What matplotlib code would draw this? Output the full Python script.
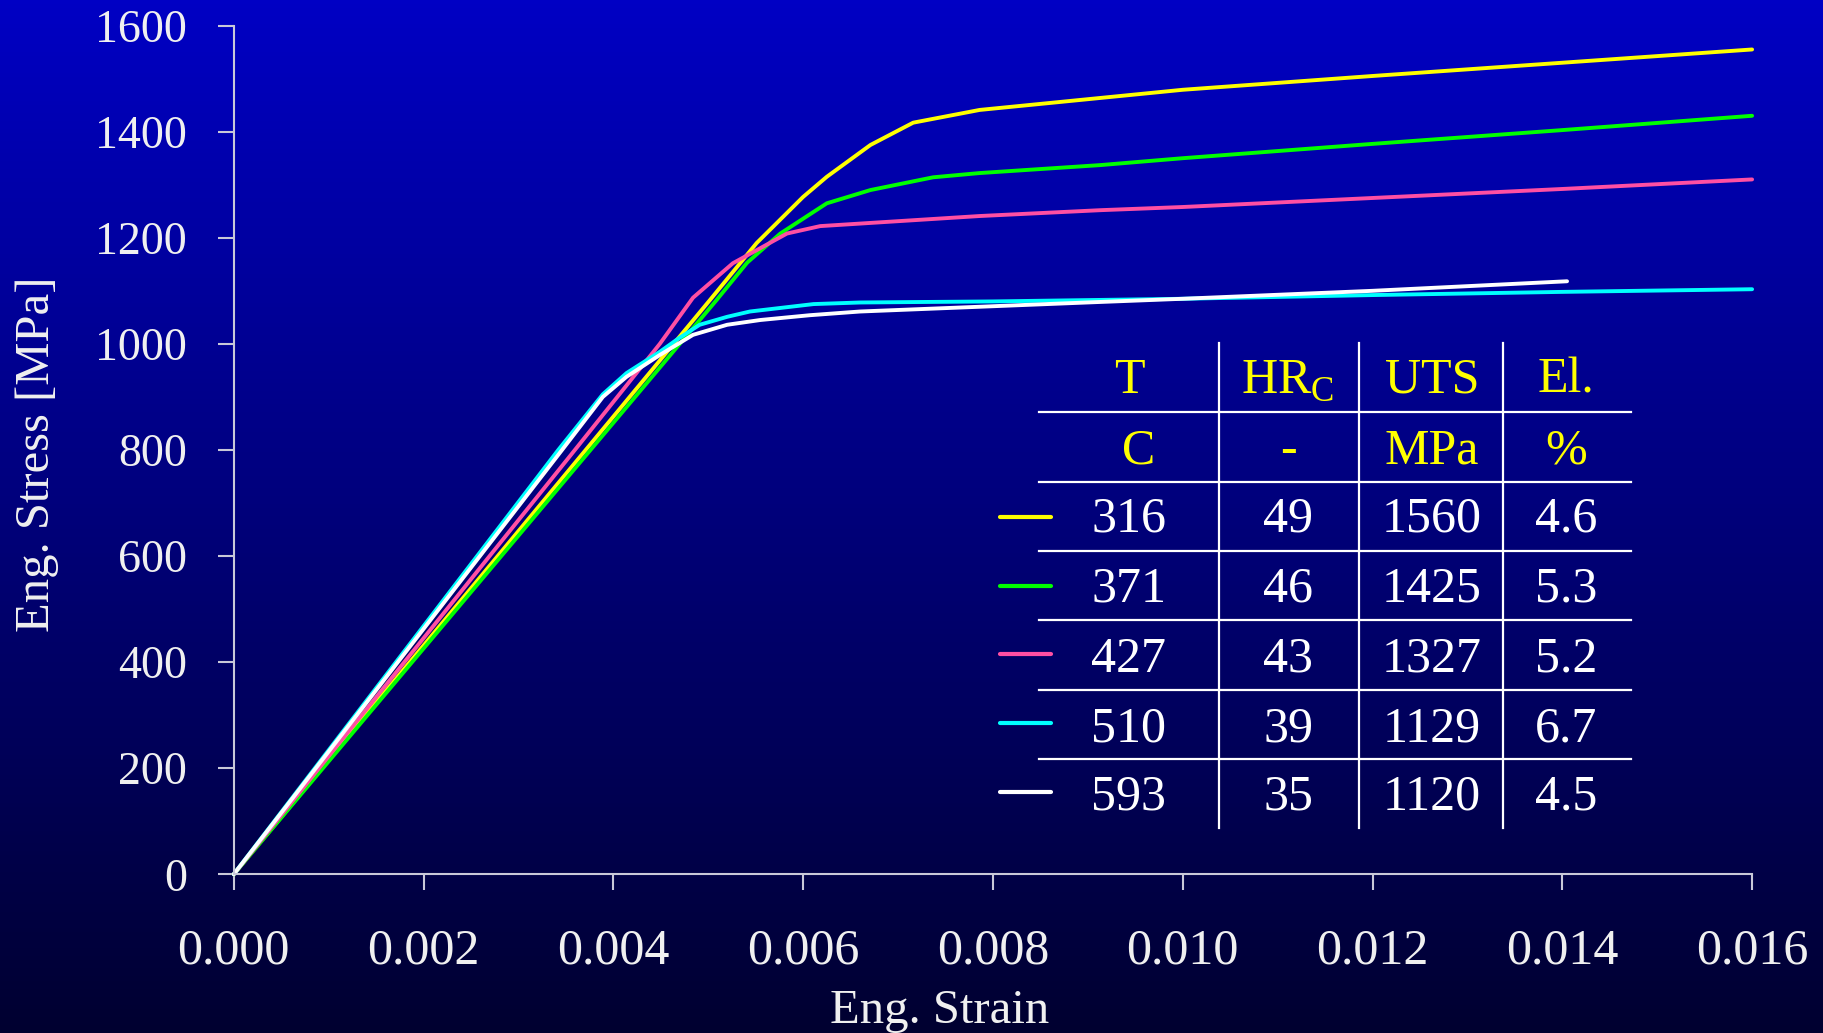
import numpy as np
import matplotlib.pyplot as plt
from matplotlib.colors import LinearSegmentedColormap

plt.rcParams['font.family'] = ['Liberation Serif', 'DejaVu Serif']
plt.rcParams['mathtext.fontset'] = 'custom'
plt.rcParams['mathtext.rm'] = 'Liberation Serif'

# curves: strain [-], stress [MPa]
strain_316 = [0, 0.0037, 0.00502, 0.00551, 0.0060, 0.00625, 0.00671, 0.00716, 0.00786, 0.010, 0.012, 0.014, 0.016]
stress_316 = [0, 798, 1083, 1190, 1277, 1315, 1375, 1417, 1441, 1479, 1505, 1530, 1555]

strain_371 = [0, 0.00376, 0.00509, 0.00541, 0.00576, 0.00625, 0.00671, 0.00737, 0.00786, 0.00913, 0.010, 0.012, 0.014, 0.016]
stress_371 = [0, 800, 1083, 1153, 1208, 1265, 1290, 1314, 1322, 1337, 1350, 1377, 1403, 1430]

strain_427 = [0, 0.00351, 0.00449, 0.00484, 0.00526, 0.00583, 0.00618, 0.00786, 0.00913, 0.010, 0.012, 0.014, 0.016]
stress_427 = [0, 781, 1000, 1087, 1152, 1208, 1222, 1241, 1252, 1258, 1275, 1292, 1310]

strain_510 = [0, 0.00342, 0.00389, 0.00414, 0.00449, 0.00467, 0.00491, 0.0052, 0.00544, 0.00611, 0.0066, 0.008, 0.010, 0.012, 0.014, 0.016]
stress_510 = [0, 800, 905, 945, 985, 1008, 1036, 1051, 1061, 1075, 1078, 1080, 1085, 1092, 1098, 1103]

strain_593 = [0, 0.00346, 0.00389, 0.00414, 0.00449, 0.00484, 0.0052, 0.00555, 0.00607, 0.0066, 0.00913, 0.010, 0.012, 0.01405]
stress_593 = [0, 800, 900, 938, 979, 1017, 1036, 1045, 1054, 1061, 1079, 1085, 1100, 1118]

colors = ['#FFFF00', '#00FF00', '#FF4FA3', '#00FFFF', '#FFFFFF']

# table
temps = ['316', '371', '427', '510', '593']
hrc = ['49', '46', '43', '39', '35']
uts = ['1560', '1425', '1327', '1129', '1120']
elong = ['4.6', '5.3', '5.2', '6.7', '4.5']
head1 = ['T', r'HR$_{\mathrm{C}}$', 'UTS', 'El.']
head2 = ['C', '-', 'MPa', '%']

W, H = 1823, 1033
fig = plt.figure(figsize=(W / 100, H / 100), dpi=100)


def fx(px):
    return px / W


def fy(py):
    return 1 - py / H


# gradient background
bg = fig.add_axes([0, 0, 1, 1])
grad = np.linspace(0, 1, 256).reshape(-1, 1)
cmap = LinearSegmentedColormap.from_list('bg', ['#0000C4', '#000030'])
bg.imshow(grad, aspect='auto', cmap=cmap, extent=[0, 1, 0, 1])
bg.axis('off')

ax = fig.add_axes([fx(233.7), fy(874.3), fx(1752.1 - 233.7), (874.3 - 25.6) / H])
ax.patch.set_alpha(0)

series = [(strain_316, stress_316), (strain_371, stress_371), (strain_427, stress_427),
          (strain_510, stress_510), (strain_593, stress_593)]
for (sx, sy), c in zip(series, colors):
    ax.plot(sx, sy, color=c, lw=2.8, solid_capstyle='round', solid_joinstyle='round', clip_on=False)

ax.set_xlim(0, 0.016)
ax.set_ylim(0, 1600)
ax.set_xticks(np.arange(0, 0.0161, 0.002))
ax.set_xticklabels(['%.3f' % v for v in np.arange(0, 0.0161, 0.002)])
ax.set_yticks(range(0, 1601, 200))
for s in ['top', 'right']:
    ax.spines[s].set_visible(False)
for s in ['left', 'bottom']:
    ax.spines[s].set_color('#C8C8D8')
    ax.spines[s].set_linewidth(1.5)
ax.tick_params(axis='both', direction='out', length=11.5, width=1.5, color='#C8C8D8', labelcolor='#F0F0F0')
ax.tick_params(axis='x', labelsize=36, pad=27)
ax.tick_params(axis='y', labelsize=33, pad=22)

fig.text(fx(939.5), 10 / H, 'Eng. Strain', color='#F0F0F0', fontsize=35, ha='center', va='baseline')
fig.text(fx(37), fy(453.8), 'Eng. Stress [MPa]', color='#F0F0F0', fontsize=35,
         rotation=90, ha='center', va='center')

# table grid
for y in [411.7, 481.7, 550.7, 620, 690, 759.3]:
    fig.add_artist(plt.Line2D([fx(1039), fx(1631)], [fy(y), fy(y)], color='white', lw=1.6))
for x in [1219, 1359, 1503]:
    fig.add_artist(plt.Line2D([fx(x), fx(x)], [fy(343), fy(828)], color='white', lw=1.6))

col_x = [1129, 1288, 1432, 1566]
base_y = [393, 463, 532, 602, 672, 741, 810]
for cx, t in zip(col_x, head1):
    fig.text(fx(cx), fy(base_y[0]), t, color='#FFFF00', fontsize=36, ha='center', va='baseline')
for cx, t in zip([1139] + col_x[1:], head2):
    fig.text(fx(cx), fy(base_y[1]), t, color='#FFFF00', fontsize=36, ha='center', va='baseline')
for i in range(len(temps)):
    row = [temps[i], hrc[i], uts[i], elong[i]]
    for cx, t in zip(col_x, row):
        fig.text(fx(cx), fy(base_y[i + 2]), t, color='white', fontsize=36, ha='center', va='baseline')

sample_y = [516.7, 585.7, 654, 722.7, 791.7]
for y, c in zip(sample_y, colors):
    fig.add_artist(plt.Line2D([fx(1000), fx(1051)], [fy(y), fy(y)], color=c, lw=3, solid_capstyle='round'))

fig.savefig('out.png', dpi=100)
